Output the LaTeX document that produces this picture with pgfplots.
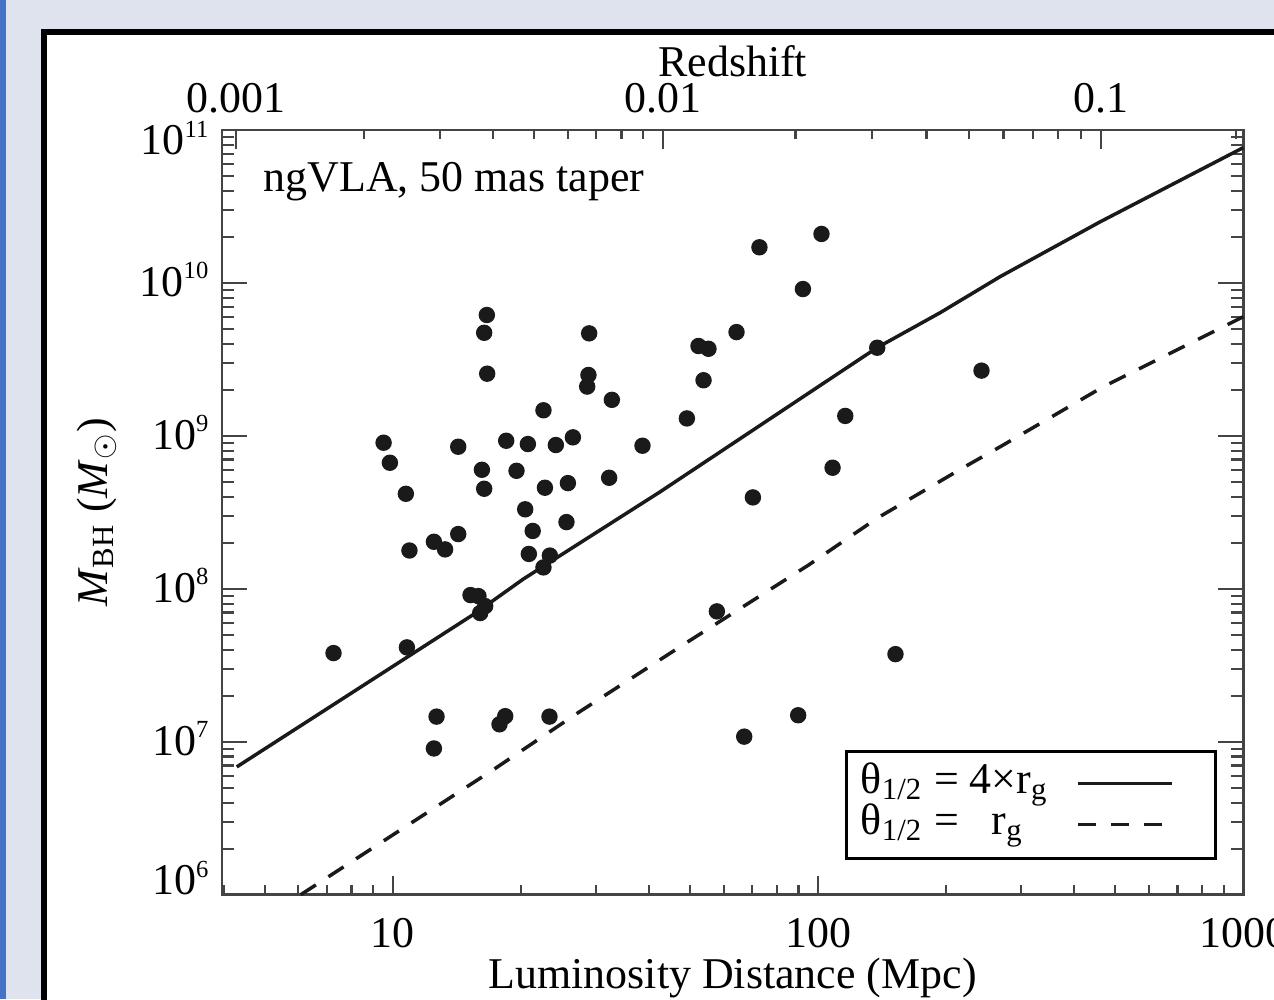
\documentclass[border=0pt]{standalone}
\usepackage{fontspec}
\setmainfont{Liberation Serif}
\usepackage{pgfplots}
\pgfplotsset{compat=1.18}
\definecolor{bgc}{HTML}{DFE3EE}
\definecolor{stripe}{HTML}{4472C4}
\definecolor{ink}{HTML}{1A1A1A}
\definecolor{axc}{HTML}{444444}
\newcommand{\sups}[1]{\raisebox{1.75mm}{\fontsize{7}{8}\selectfont #1}}
\newcommand{\ylab}[2]{\smash{\raisebox{#1}{10\sups{#2}}}}
\begin{document}
\begin{tikzpicture}[font=\fontsize{12.5}{15}\selectfont]
\useasboundingbox (0,0) rectangle (127.4mm,99.9mm);
\begin{scope}
\clip (0,0) rectangle (127.4mm,99.9mm);
\fill[bgc] (0,0) rectangle (127.4mm,99.9mm);
\fill[stripe] (0,0) rectangle (0.57mm,99.9mm);
\filldraw[fill=white, draw=black, line width=0.6mm] (4.37mm,-5mm) rectangle (135mm,96.7mm);

% bottom axis: distance
\begin{axis}[
  xmode=log, ymode=log, scale only axis, clip=false,
  width=102.13mm, height=76.47mm,
  xmin=3.97, xmax=1000, ymin=1e6, ymax=1e11,
  at={(22.2mm,10.43mm)}, anchor=south west,
  tick align=inside,
  axis line style={axc, line width=0.25mm},
  tick style={axc, line width=0.22mm},
  tick label style={font=\fontsize{12.5}{15}\selectfont},
  ytick=\empty,
  xtick={10,100,1000}, xticklabels={10,100,1000},
  minor xtick={4,5,6,7,8,9,20,30,40,50,60,70,80,90,200,300,400,500,600,700,800,900},
  xtick pos=left,
  major tick length=1.9mm, minor tick length=1.0mm,
  xticklabel style={anchor=base, yshift=-5.25mm},
]
\addplot[draw=none, forget plot] coordinates {(10,1e8)};
\node[anchor=base] at (rel axis cs:0.5,0) [yshift=-9.4mm] {Luminosity Distance (Mpc)};
\end{axis}

% top axis: redshift
\begin{axis}[
  xmode=log, ymode=log, scale only axis, clip=false,
  width=102.13mm, height=76.47mm,
  xmin=3.97, xmax=1000, ymin=1e6, ymax=1e11,
  at={(22.2mm,10.43mm)}, anchor=south west,
  tick align=inside,
  axis line style={axc, line width=0.25mm},
  tick style={axc, line width=0.22mm},
  tick label style={font=\fontsize{12.5}{15}\selectfont},
  ytick=\empty,
  xtick={4.29,43.2,463}, xticklabels={0.001,0.01,0.1},
  minor xtick={8.58,12.9,17.2,21.5,25.8,30.1,34.5,38.8,88.5,134,180,226,273,320,367,415,962},
  xtick pos=right, xticklabel pos=right,
  major tick length=1.9mm, minor tick length=0.9mm,
  xticklabel style={anchor=base, yshift=1.7mm},
]
\addplot[draw=none, forget plot] coordinates {(10,1e8)};
\node[anchor=base] at (rel axis cs:0.5,1) [yshift=5.3mm] {Redshift};
\end{axis}

% main axis: data
\begin{axis}[
  xmode=log, ymode=log, scale only axis, clip=false,
  width=102.13mm, height=76.47mm,
  xmin=3.97, xmax=1000, ymin=1e6, ymax=1e11,
  at={(22.2mm,10.43mm)}, anchor=south west,
  tick align=inside,
  axis line style={axc, line width=0.25mm},
  tick style={axc, line width=0.22mm},
  tick label style={font=\fontsize{12.5}{15}\selectfont},
  xtick=\empty,
  ytick={1e6,1e7,1e8,1e9,1e10,1e11},
  yticklabels={\ylab{0mm}{6},\ylab{-1.35mm}{7},\ylab{-1.35mm}{8},\ylab{-1.35mm}{9},\ylab{-1.35mm}{10},\ylab{-2.5mm}{11}},
  minor ytick={2e6,3e6,4e6,5e6,6e6,7e6,8e6,9e6,2e7,3e7,4e7,5e7,6e7,7e7,8e7,9e7,2e8,3e8,4e8,5e8,6e8,7e8,8e8,9e8,2e9,3e9,4e9,5e9,6e9,7e9,8e9,9e9,2e10,3e10,4e10,5e10,6e10,7e10,8e10,9e10},
  major tick length=2.5mm, minor tick length=1.25mm,
  yticklabel style={anchor=east, inner sep=0pt, xshift=-1.3mm},
  legend style={at={(0.974,0.1892)}, anchor=north east, draw=black, line width=0.3mm, fill=white,
    inner xsep=1.4mm, inner ysep=1.4mm, row sep=0.3mm,
    nodes={inner sep=0pt, text height=2.8mm, text depth=1.0mm, font=\fontsize{12.5}{15}\selectfont}},
  legend cell align=left, legend plot pos=right,
  legend image code/.code={\draw[#1] (3mm,0.1mm) -- (12.4mm,0.1mm); \path[draw=none] (0mm,0mm) -- (15.3mm,0mm);},
]
\addplot[only marks, mark=*, mark size=0.75mm, color=ink, forget plot] coordinates {
(7.26,3.80e7) (9.52,9.02e8) (9.85,6.67e8) (10.74,4.18e8) (10.95,1.78e8)
(10.80,4.14e7) (12.50,2.03e8) (13.28,1.81e8) (14.26,2.28e8) (14.26,8.49e8)
(16.65,6.17e9) (16.41,4.72e9) (16.68,2.55e9) (16.21,6.00e8) (16.41,4.51e8)
(15.24,9.10e7) (15.91,8.96e7) (16.06,6.94e7) (16.50,7.71e7) (12.68,1.46e7)
(12.50,9.04e6) (18.39,1.47e7) (17.83,1.30e7) (23.37,1.46e7) (18.49,9.29e8)
(19.55,5.91e8) (20.49,3.31e8) (20.90,1.69e8) (21.34,2.39e8) (20.79,8.84e8)
(22.62,1.47e9) (22.80,4.58e8) (23.42,1.65e8) (22.62,1.38e8) (24.19,8.71e8)
(26.53,9.78e8) (25.82,4.91e8) (25.62,2.73e8) (28.97,4.68e9) (28.86,2.50e9)
(28.66,2.10e9) (32.76,1.72e9) (32.28,5.32e8) (38.67,8.62e8) (49.17,1.30e9)
(52.36,3.87e9) (55.27,3.71e9) (53.81,2.31e9) (64.33,4.77e9) (72.83,1.71e10)
(101.9,2.09e10) (92.15,9.12e9) (137.8,3.77e9) (115.9,1.35e9) (108.2,6.19e8)
(70.30,3.96e8) (242.3,2.67e9) (57.84,7.12e7) (152.1,3.74e7) (89.82,1.49e7)
(67.07,1.08e7)
};
\addplot[color=ink, line width=0.35mm] coordinates {
(4.30,6.85e6) (15.63,6.91e7) (20.30,1.16e8)
(42.56,4.31e8) (137.6,3.77e9) (193.8,6.39e9) (268.2,1.10e10) (460.8,2.51e10)
(1000,7.67e10)
};
\addlegendentry{θ\textsubscript{1/2} = 4×r\textsubscript{g}}
\addplot[color=ink, line width=0.35mm, dash pattern=on 1.8mm off 1.5mm] coordinates {
(6.08,1.0e6) (17.42,6.69e6) (27.11,1.53e7) (48.72,4.39e7) (95.0,1.43e8)
(137.6,2.89e8) (218,6.13e8) (268.2,8.49e8) (469.2,2.10e9) (1000,6.01e9)
};
\addlegendentry{θ\textsubscript{1/2} =\hspace{2.2mm} r\textsubscript{g}}
\node[anchor=base west, inner sep=0pt] at (rel axis cs:0.0401,0.9202) {ngVLA, 50 mas taper};
\node[rotate=90, anchor=base] at ([xshift=-11.5mm]rel axis cs:0,0.5) {\textit{M}\textsubscript{BH} (\textit{M}\textsubscript{$\odot$})};
\end{axis}
\end{scope}
\end{tikzpicture}
\end{document}
